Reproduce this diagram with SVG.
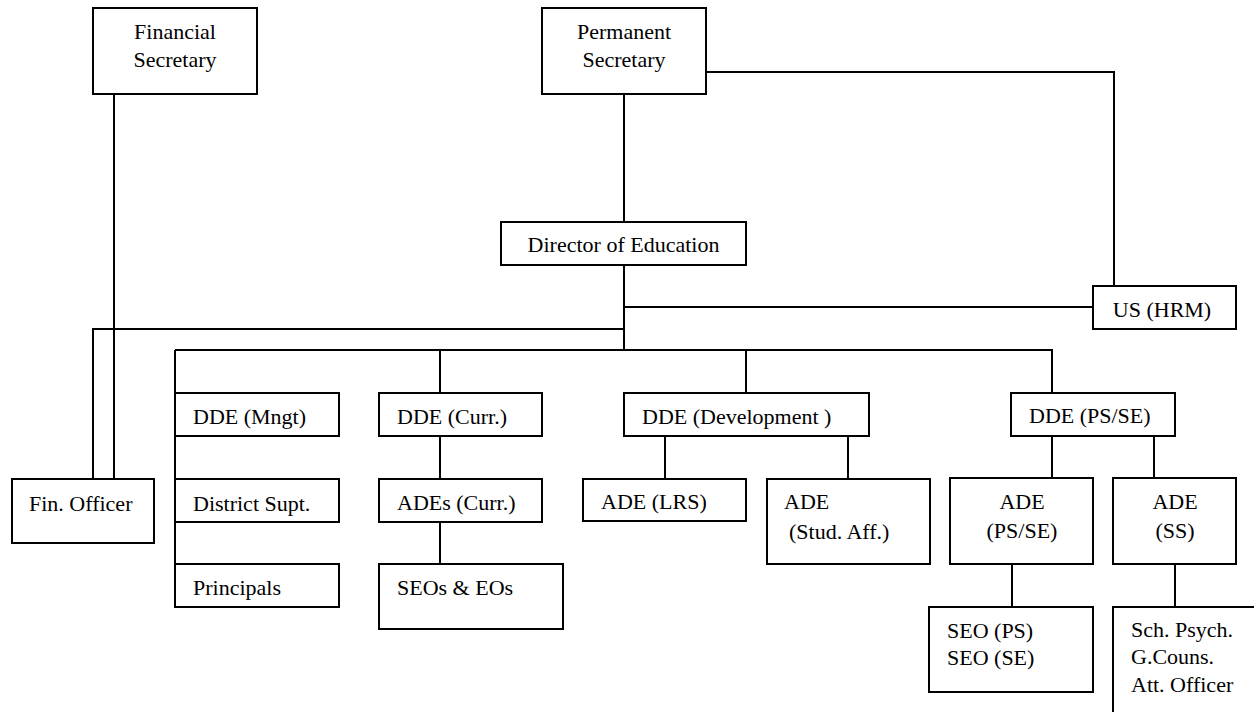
<svg xmlns="http://www.w3.org/2000/svg" width="1254" height="712" viewBox="0 0 1254 712">
<style>
.box{fill:#fff;stroke:#000;stroke-width:2}
.ln{fill:none;stroke:#000;stroke-width:2}
text{font-family:"Liberation Serif","Times New Roman",serif;font-size:22px;fill:#000}
.c{text-anchor:middle}
</style>
<rect width="1254" height="712" fill="#fff"/>
<g id="connectors">
<path class="ln" d="M114,94 V479"/>
<path class="ln" d="M624,94 V222"/>
<path class="ln" d="M706,72 H1114 V286"/>
<path class="ln" d="M624,265 V350"/>
<path class="ln" d="M624,307 H1093"/>
<path class="ln" d="M624,329 H93 V479"/>
<path class="ln" d="M175,350 H1052 V393"/>
<path class="ln" d="M175,350 V564"/>
<path class="ln" d="M440,350 V393"/>
<path class="ln" d="M746,350 V393"/>
<path class="ln" d="M440,436 V479"/>
<path class="ln" d="M440,522 V564"/>
<path class="ln" d="M665,436 V479"/>
<path class="ln" d="M848,436 V479"/>
<path class="ln" d="M1052,436 V478"/>
<path class="ln" d="M1154,436 V478"/>
<path class="ln" d="M1012,564 V607"/>
<path class="ln" d="M1175,564 V607"/>
</g>
<g id="financial-secretary"><rect class="box" x="93" y="8" width="164" height="86"/><text class="c" x="175" y="39">Financial</text><text class="c" x="175" y="67">Secretary</text></g>
<g id="permanent-secretary"><rect class="box" x="542" y="8" width="164" height="86"/><text class="c" x="624" y="39">Permanent</text><text class="c" x="624" y="67">Secretary</text></g>
<g id="director"><rect class="box" x="501" y="222" width="245" height="43"/><text class="c" x="623.5" y="252">Director of Education</text></g>
<g id="us-hrm"><rect class="box" x="1093" y="286" width="143" height="43"/><text class="c" x="1162" y="317">US (HRM)</text></g>
<g id="fin-officer"><rect class="box" x="12" y="479" width="142" height="64"/><text x="29" y="511">Fin. Officer</text></g>
<g id="dde-mngt"><rect class="box" x="175" y="393" width="164" height="43"/><text x="193" y="424">DDE (Mngt)</text></g>
<g id="district-supt"><rect class="box" x="175" y="479" width="164" height="43"/><text x="193" y="511">District Supt.</text></g>
<g id="principals"><rect class="box" x="175" y="564" width="164" height="43"/><text x="193" y="595">Principals</text></g>
<g id="dde-curr"><rect class="box" x="379" y="393" width="163" height="43"/><text x="397" y="424">DDE (Curr.)</text></g>
<g id="ades-curr"><rect class="box" x="379" y="479" width="163" height="43"/><text x="397" y="510">ADEs (Curr.)</text></g>
<g id="seos-eos"><rect class="box" x="379" y="564" width="184" height="65"/><text x="397" y="595">SEOs &amp; EOs</text></g>
<g id="dde-development"><rect class="box" x="624" y="393" width="245" height="43"/><text x="642" y="424">DDE (Development )</text></g>
<g id="ade-lrs"><rect class="box" x="583" y="479" width="163" height="42"/><text x="601" y="509">ADE (LRS)</text></g>
<g id="ade-stud-aff"><rect class="box" x="767" y="479" width="163" height="85"/><text x="784" y="509">ADE</text><text x="789" y="539">(Stud. Aff.)</text></g>
<g id="dde-ps-se"><rect class="box" x="1011" y="393" width="164" height="43"/><text x="1029" y="423">DDE (PS/SE)</text></g>
<g id="ade-ps-se"><rect class="box" x="950" y="478" width="143" height="86"/><text class="c" x="1022" y="509">ADE</text><text class="c" x="1022" y="538">(PS/SE)</text></g>
<g id="ade-ss"><rect class="box" x="1113" y="478" width="123" height="86"/><text class="c" x="1175" y="509">ADE</text><text class="c" x="1175" y="538">(SS)</text></g>
<g id="seo-ps-se"><rect class="box" x="929" y="607" width="164" height="85"/><text x="947" y="638">SEO (PS)</text><text x="947" y="665">SEO (SE)</text></g>
<g id="school-support"><path class="box" d="M1113,714 V607 H1256"/><text x="1131" y="637">Sch. Psych.</text><text x="1131" y="664">G.Couns.</text><text x="1131" y="692">Att. Officer</text></g>
</svg>
